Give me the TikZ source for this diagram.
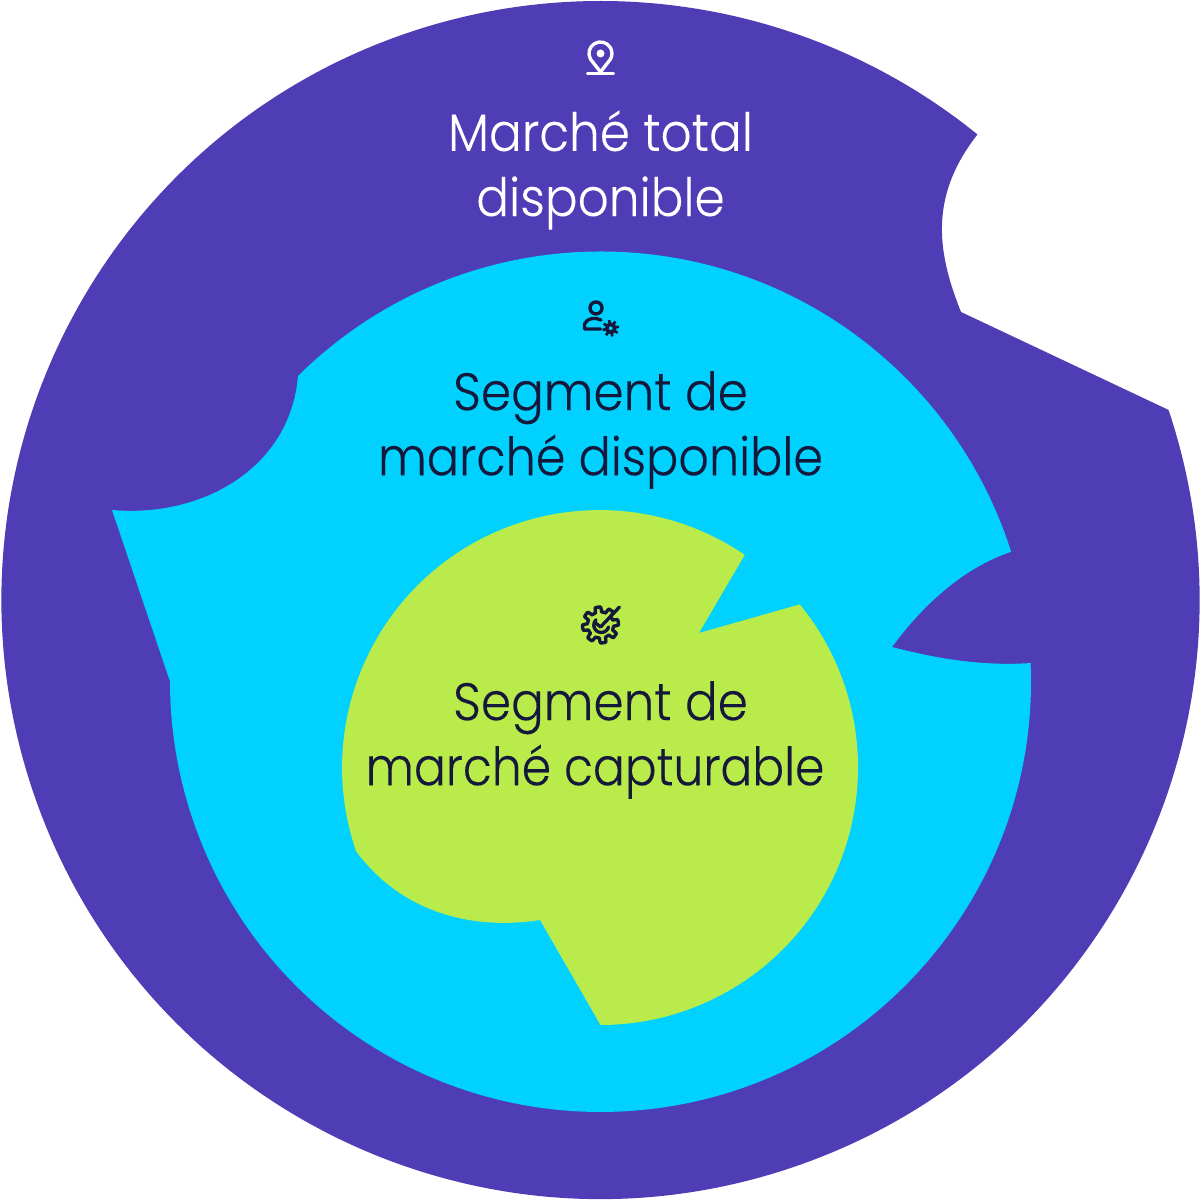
\documentclass[tikz,border=0pt]{standalone}
\usepackage{fontspec}
\setmainfont{Poppins}[UprightFont=* Light,FakeStretch=0.92,FakeBold=0.12]
\definecolor{purpleB}{HTML}{4F3DB6}
\definecolor{cyanB}{HTML}{00D1FF}
\definecolor{limeB}{HTML}{B9EB4B}
\definecolor{inkB}{HTML}{14183A}
\tikzset{
  label text/.style={font=\fontsize{15}{18.5}\selectfont,align=center,inner sep=0pt,text=#1},
  icon/.style={draw=#1,line width=0.95pt,line cap=round,line join=round,fill=none},
}
\begin{document}
\begin{tikzpicture}[x=0.01cm,y=0.01cm]
\useasboundingbox (0,0) rectangle (1201,1201);
% outer
\coordinate (oc) at (600.5,601);
\fill[purpleB] (oc) ++(18.5:599) arc[start angle=18.5,end angle=-309,radius=599]
  .. controls (930,1006) and (936,951) .. (961,889) -- cycle;
% middle
\coordinate (mc) at (600.5,519.5);
\fill[cyanB] (mc) ++(2.4:430.5) arc[start angle=2.4,end angle=-180,radius=430.5]
  -- (112,691) .. controls (200,683) and (290,731) .. (298,825)
  arc[start angle=134.7,end angle=17.6,radius=430.5]
  .. controls (960,632) and (920,592) .. (892,554)
  .. controls (945,540) and (990,535) .. (1031,538) -- cycle;
% inner
\coordinate (ic) at (600.5,433.5);
\fill[limeB] (ic) ++(39.3:257.5) arc[start angle=39.3,end angle=-90,radius=257.5]
  -- (540,281) .. controls (470,270) and (400,290) .. (356,350)
  arc[start angle=198.9,end angle=55.7,radius=257.5]
  -- (699,568) -- cycle;
% labels
\node[label text=white] (total) at (600.5,1031) {Marché total\\disponible};
\node[label text=inkB] (dispo) at (600.5,771) {Segment de\\\addfontfeature{FakeStretch=0.905}marché disponible};
\node[label text=inkB] (capt) at (600.5,461) {Segment de\\\hspace*{-3.1pt}\addfontfeature{FakeStretch=0.895}marché capturable};
% pin icon
\draw[icon=white] (590.5,1141.75) arc[start angle=210,end angle=-30,radius=11.5] -- (600.5,1129) -- cycle;
\fill[white] (600.5,1147.5) circle[radius=4];
\draw[icon=white] (587.5,1127.5) -- (613.5,1127.5);
% person gear icon
\draw[icon=inkB] (596,893) circle[radius=6];
\draw[icon=inkB] (600.5,872) -- (584.5,872) -- (584.5,877) .. controls (587,883) and (595,884) .. (601,881);
\begin{scope}[shift={(610.7,872.7)}]
\fill[inkB,even odd rule] plot[domain=0:360,samples=145] (\x:{7+1.4*max(-1,min(1,3*sin(8*\x)))}) -- cycle (0,0) circle[radius=2];
\end{scope}
% gear check icon
\begin{scope}[shift={(600.5,576)}]
\draw[icon=inkB] plot[domain=25:430,samples=270] (\x:{15.5+2.5*max(-1,min(1,3*sin(8*\x+22)))});
\draw[icon=inkB] (8,-2) arc[start angle=-15,end angle=-225,radius=7.5];
\draw[icon=inkB] (-6,3) -- (0,-2) -- (19,18);
\end{scope}
\end{tikzpicture}
\end{document}
